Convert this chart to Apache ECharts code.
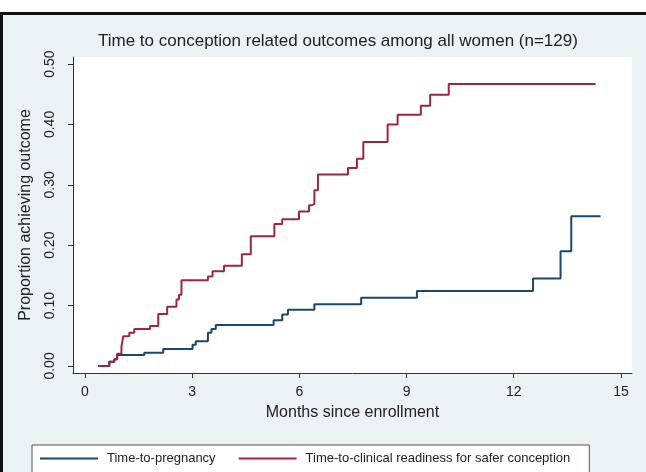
<!DOCTYPE html>
<html>
<head>
<meta charset="utf-8">
<script src="https://cdn.jsdelivr.net/npm/echarts@6/dist/echarts.min.js"></script>
<style>
  html, body { margin: 0; padding: 0; background: #ffffff; }
  #bg { position: absolute; left: 0; top: 12px; width: 643px; height: 457px;
        background: #EAF2F3; border-top: 3px solid #111; border-left: 3px solid #111; }
  #chart { position: absolute; left: 0; top: 0; width: 646px; height: 472px; }
</style>
</head>
<body>
<div id="bg"></div>
<div id="chart"></div>
<script>
// ---- data ----
const titleText = 'Time to conception related outcomes among all women (n=129)';
const xTickValues = [0, 3, 6, 9, 12, 15];
const yTickValues = [0, 0.1, 0.2, 0.3, 0.4, 0.5];

const seriesNames = ['Time-to-pregnancy', 'Time-to-clinical readiness for safer conception'];

const pregTimes  = [0.37, 0.68, 0.82, 0.90, 1.66, 2.19, 3.01, 3.10, 3.44, 3.54, 3.66, 5.28, 5.52, 5.68, 6.42, 7.73, 9.29, 12.54, 13.31, 13.61, 14.43];
const pregValues = [0.000, 0.007, 0.011, 0.018, 0.022, 0.028, 0.035, 0.041, 0.055, 0.061, 0.068, 0.0755, 0.085, 0.093, 0.102, 0.113, 0.124, 0.145, 0.190, 0.248, 0.248];

const readyTimes  = [0.37, 0.68, 0.82, 0.90, 1.02, 1.07, 1.24, 1.38, 1.82, 2.05, 2.30, 2.56, 2.63, 2.70, 3.44, 3.57, 3.89, 4.39, 4.64, 5.30, 5.52, 5.99, 6.27, 6.33, 6.42, 6.52, 7.36, 7.61, 7.79, 8.47, 8.75, 9.40, 9.66, 10.18, 14.29];
const readyValues = [0.000, 0.007, 0.011, 0.020, 0.032, 0.049, 0.055, 0.061, 0.066, 0.086, 0.098, 0.110, 0.118, 0.142, 0.148, 0.157, 0.166, 0.185, 0.215, 0.235, 0.243, 0.256, 0.266, 0.268, 0.291, 0.317, 0.328, 0.343, 0.371, 0.400, 0.416, 0.431, 0.449, 0.467, 0.467];

const colors = ['#1A476F', '#A0243F'];

function pairs(xs, ys) { return xs.map((x, i) => [x, ys[i]]); }

const FONT = '"Liberation Sans", Arial, Helvetica, sans-serif';
const chart = echarts.init(document.getElementById('chart'), null, { renderer: 'canvas' });

chart.setOption({
  animation: false,
  backgroundColor: 'transparent',
  title: {
    text: titleText,
    left: 93,
    top: 28,
    textStyle: { fontFamily: FONT, fontSize: 17, fontWeight: 'normal', color: '#222' }
  },
  grid: {
    left: 73, right: 14, top: 57, bottom: 99,
    show: true, backgroundColor: '#ffffff', borderWidth: 0
  },
  legend: {
    left: 32, top: 445,
    itemWidth: 58, itemHeight: 2, icon: 'rect',
    itemGap: 23,
    padding: [7, 19, 9, 8],
    borderColor: '#555', borderWidth: 1, backgroundColor: '#ffffff', borderRadius: 0,
    textStyle: { fontFamily: FONT, fontSize: 13, color: '#222', padding: [0, 0, 0, 4] },
    data: seriesNames
  },
  xAxis: {
    type: 'value',
    min: -0.336, max: 15.31,
    name: 'Months since enrollment',
    nameLocation: 'middle',
    nameGap: 32,
    nameTextStyle: { fontFamily: FONT, fontSize: 16, color: '#222' },
    axisLine: { show: true, onZero: false, lineStyle: { color: '#333', width: 1 } },
    axisTick: { show: true, length: 5, lineStyle: { color: '#333' }, customValues: xTickValues },
    axisLabel: { customValues: xTickValues, fontFamily: FONT, fontSize: 14, color: '#222', margin: 12,
                 formatter: v => String(Math.round(v)) },
    splitLine: { show: false }
  },
  yAxis: {
    type: 'value',
    min: -0.0117, max: 0.5117,
    name: 'Proportion achieving outcome',
    nameLocation: 'middle',
    nameGap: 39,
    nameTextStyle: { fontFamily: FONT, fontSize: 16, color: '#222' },
    axisLine: { show: true, onZero: false, lineStyle: { color: '#333', width: 1 } },
    axisTick: { show: true, length: 5, lineStyle: { color: '#333' }, customValues: yTickValues },
    axisLabel: { customValues: yTickValues, rotate: 90, fontFamily: FONT, fontSize: 14, color: '#222', margin: 16,
                 formatter: v => v.toFixed(2) },
    splitLine: { show: false }
  },
  series: [
    {
      name: seriesNames[0], type: 'line', step: 'end', symbol: 'none',
      data: pairs(pregTimes, pregValues),
      itemStyle: { color: colors[0] },
      lineStyle: { color: colors[0], width: 2 }
    },
    {
      name: seriesNames[1], type: 'line', step: 'end', symbol: 'none',
      data: pairs(readyTimes, readyValues),
      itemStyle: { color: colors[1] },
      lineStyle: { color: colors[1], width: 2 }
    }
  ]
});
</script>
</body>
</html>
